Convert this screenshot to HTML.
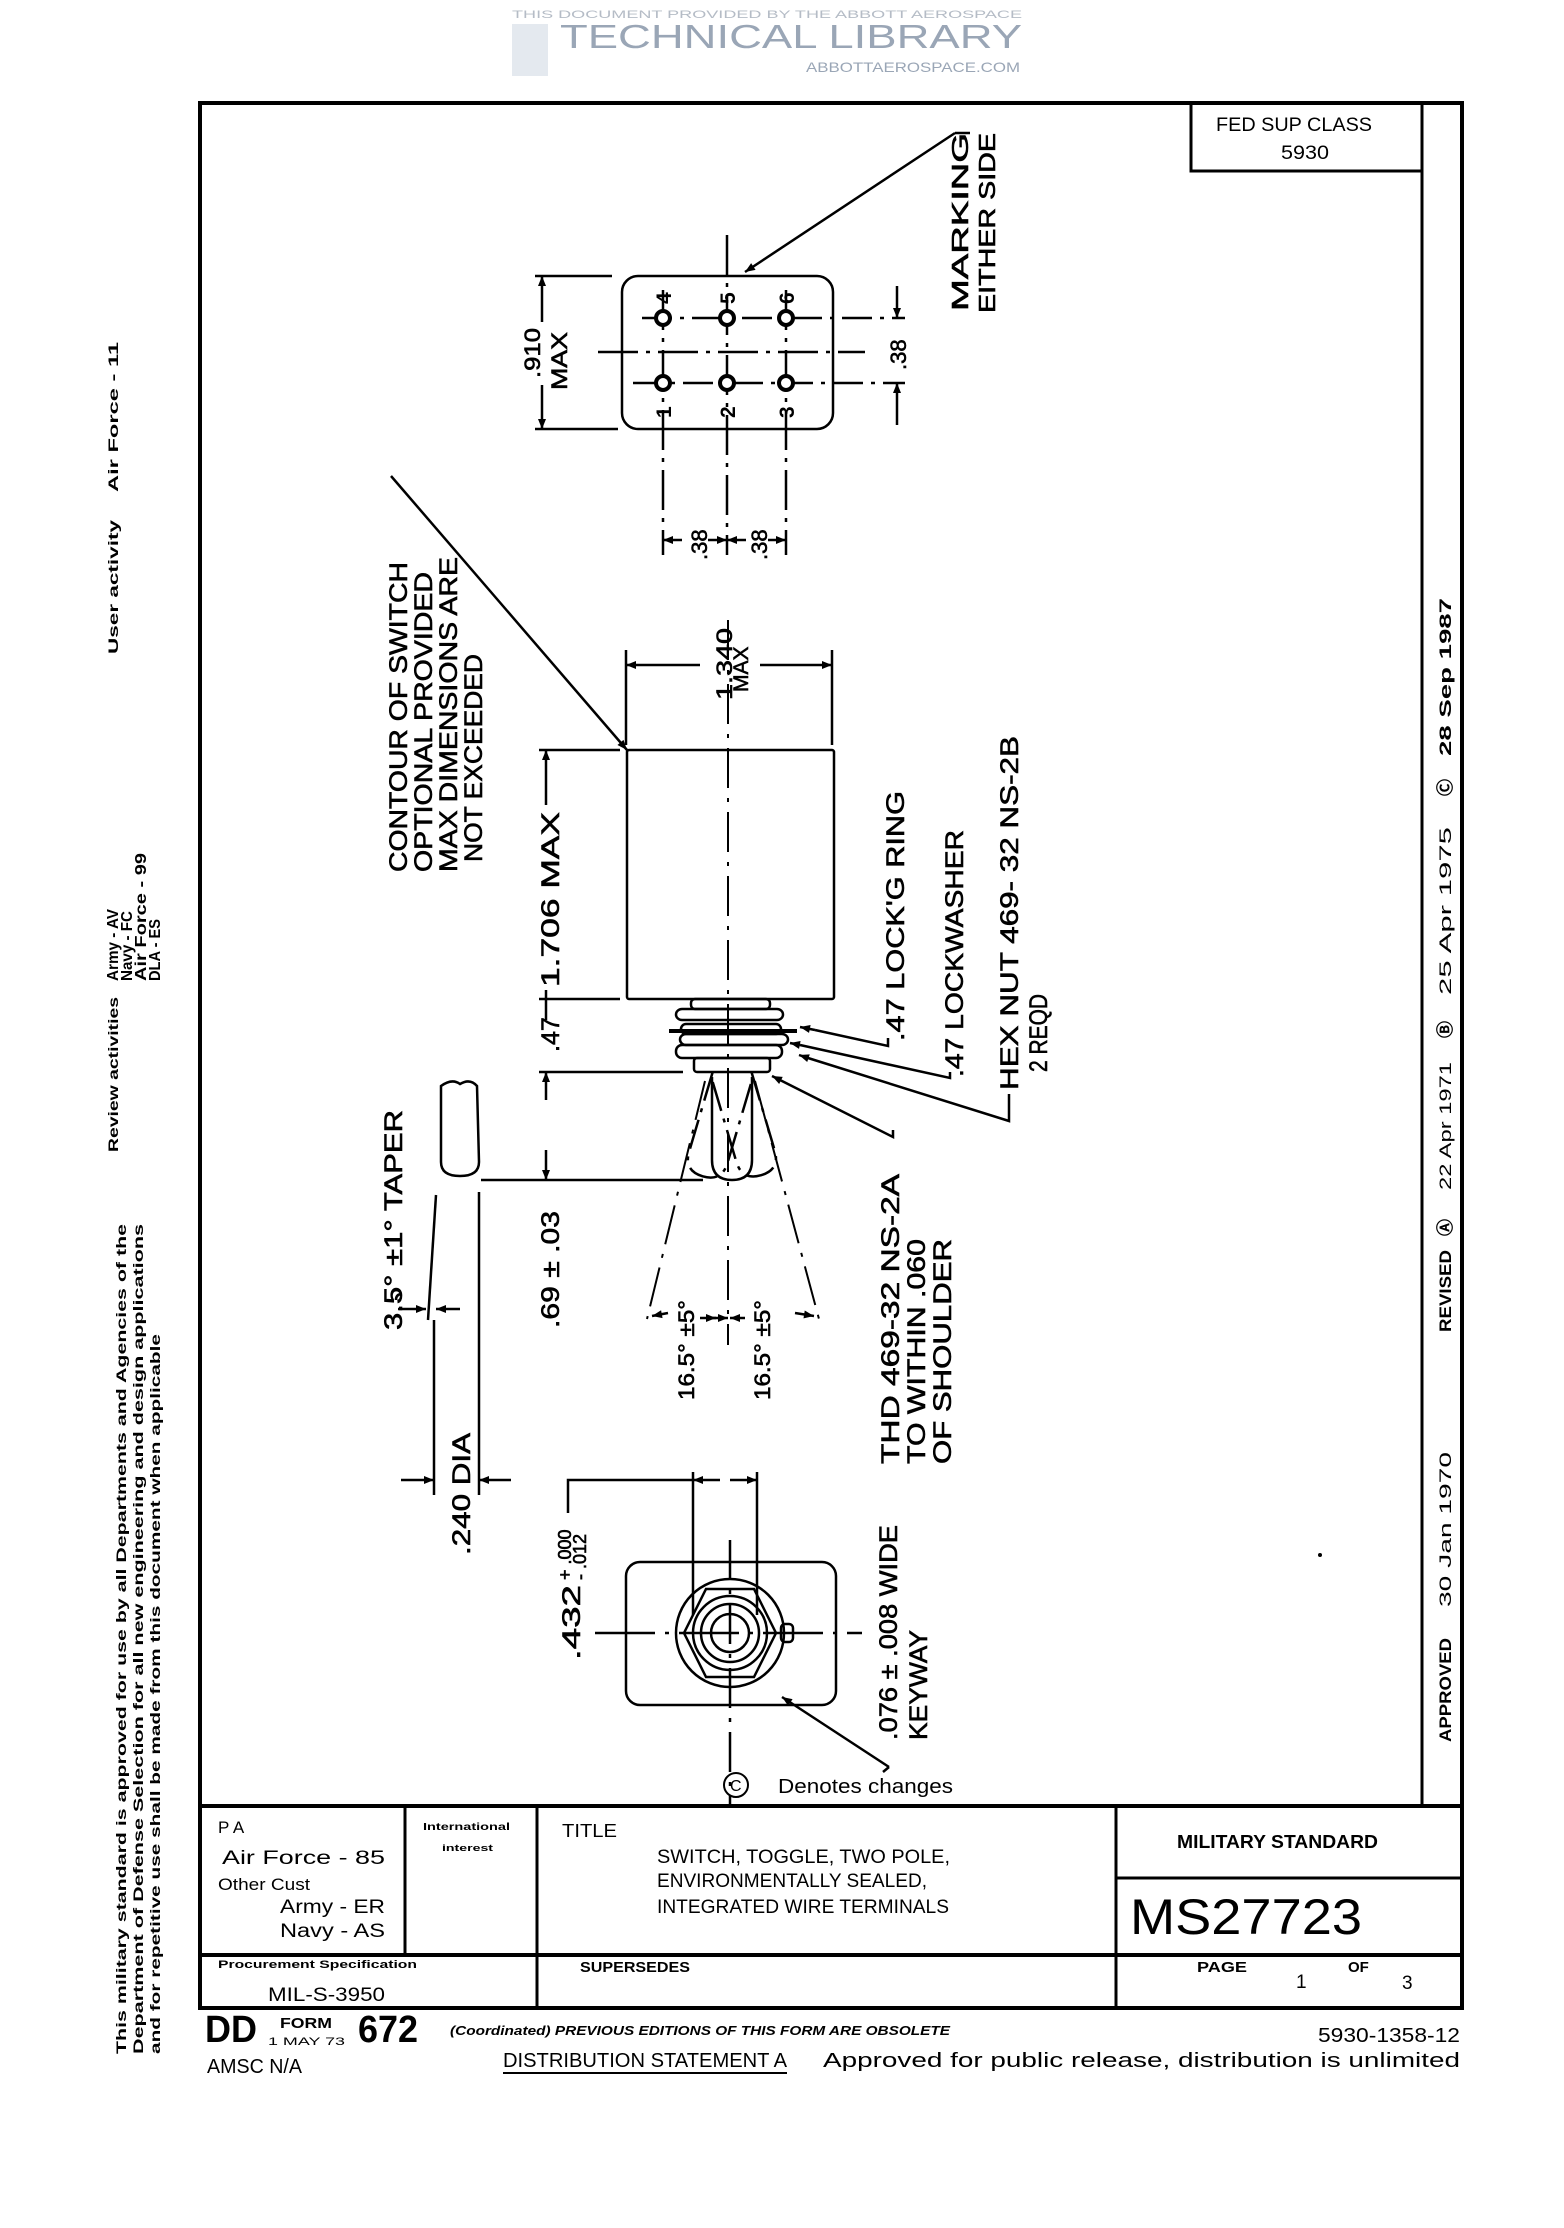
<!DOCTYPE html>
<html><head><meta charset="utf-8"><style>
html,body{margin:0;padding:0;background:#fff}
svg{display:block}
text{font-family:"Liberation Sans",sans-serif;fill:#000}
.d{font-size:25px;stroke:#000;stroke-width:0.6}
.n{font-family:"Liberation Sans Narrow","Liberation Sans",sans-serif}
</style></head><body>
<svg width="1564" height="2228" viewBox="0 0 1564 2228" xmlns="http://www.w3.org/2000/svg">
<defs>
<marker id="a" viewBox="0 0 10 10" refX="10" refY="5" markerWidth="14" markerHeight="10" markerUnits="userSpaceOnUse" orient="auto"><path d="M0,1 L10,5 L0,9 Z" fill="#000"/></marker>
</defs>
<g fill="#a9b4c4">
<rect x="512" y="24" width="36" height="52" fill="#e4e9ef"/>
<text x="512" y="18" font-size="11" style="fill:#b5bcc6" textLength="510" lengthAdjust="spacingAndGlyphs">THIS DOCUMENT PROVIDED BY THE ABBOTT AEROSPACE</text>
<text x="560" y="48" font-size="33" style="fill:#9aa6b6" textLength="462" lengthAdjust="spacingAndGlyphs">TECHNICAL LIBRARY</text>
<text x="806" y="72" font-size="14" style="fill:#9aa6b6" textLength="214" lengthAdjust="spacingAndGlyphs">ABBOTTAEROSPACE.COM</text>
</g>

<g stroke="#000" fill="none">
<rect x="200" y="103" width="1262" height="1905" stroke-width="4"/>
<line x1="1422" y1="103" x2="1422" y2="1806" stroke-width="3"/>
<polyline points="1191,103 1191,171 1422,171" stroke-width="3"/>
<line x1="200" y1="1806" x2="1462" y2="1806" stroke-width="4"/>
<line x1="200" y1="1955" x2="1462" y2="1955" stroke-width="4"/>
<line x1="405" y1="1806" x2="405" y2="1955" stroke-width="3"/>
<line x1="537" y1="1806" x2="537" y2="2008" stroke-width="3"/>
<line x1="1116" y1="1806" x2="1116" y2="2008" stroke-width="3"/>
<line x1="1116" y1="1878" x2="1462" y2="1878" stroke-width="3"/>
</g>
<text x="1216" y="131" font-size="19" class="n" textLength="156" lengthAdjust="spacingAndGlyphs">FED SUP CLASS</text>
<text x="1281" y="159" font-size="19" class="n" textLength="48" lengthAdjust="spacingAndGlyphs">5930</text>

<g font-size="17" font-weight="bold">
<text transform="translate(1451,1742) rotate(-90)" textLength="104" lengthAdjust="spacingAndGlyphs">APPROVED</text>
<text transform="translate(1451,1607) rotate(-90)" font-weight="normal" textLength="155" lengthAdjust="spacingAndGlyphs">30 Jan 1970</text>
<text transform="translate(1451,1332) rotate(-90)" textLength="82" lengthAdjust="spacingAndGlyphs">REVISED</text>
<text transform="translate(1451,1236) rotate(-90)">Ⓐ</text>
<text transform="translate(1451,1190) rotate(-90)" font-weight="normal" textLength="128" lengthAdjust="spacingAndGlyphs">22 Apr 1971</text>
<text transform="translate(1451,1038) rotate(-90)">Ⓑ</text>
<text transform="translate(1451,995) rotate(-90)" font-weight="normal" textLength="168" lengthAdjust="spacingAndGlyphs">25 Apr 1975</text>
<text transform="translate(1451,796) rotate(-90)">Ⓒ</text>
<text transform="translate(1451,756) rotate(-90)" textLength="158" lengthAdjust="spacingAndGlyphs">28 Sep 1987</text>
</g>

<g font-size="14" font-weight="bold">
<text transform="translate(118,1152) rotate(-90)" textLength="155" lengthAdjust="spacingAndGlyphs">Review activities</text>
<text transform="translate(118,981) rotate(-90)" font-size="16" textLength="72" lengthAdjust="spacingAndGlyphs">Army - AV</text>
<text transform="translate(132,981) rotate(-90)" font-size="16" textLength="70" lengthAdjust="spacingAndGlyphs">Navy - FC</text>
<text transform="translate(146,981) rotate(-90)" font-size="16" textLength="128" lengthAdjust="spacingAndGlyphs">Air Force - 99</text>
<text transform="translate(160,981) rotate(-90)" font-size="16" textLength="62" lengthAdjust="spacingAndGlyphs">DLA - ES</text>
<text transform="translate(118,654) rotate(-90)" textLength="134" lengthAdjust="spacingAndGlyphs">User activity</text>
<text transform="translate(118,492) rotate(-90)" textLength="150" lengthAdjust="spacingAndGlyphs">Air Force - 11</text>
<text transform="translate(126,2054) rotate(-90)" textLength="830" lengthAdjust="spacingAndGlyphs">This military standard is approved for use by all Departments and Agencies of the</text>
<text transform="translate(143,2054) rotate(-90)" textLength="830" lengthAdjust="spacingAndGlyphs">Department of Defense    Selection for all new engineering and design applications</text>
<text transform="translate(160,2054) rotate(-90)" textLength="720" lengthAdjust="spacingAndGlyphs">and for repetitive use shall be made from this document when applicable</text>
</g>

<g stroke="#000" fill="none" stroke-width="2.5">
<rect x="622" y="276" width="211" height="153" rx="16"/>
<line x1="598" y1="352" x2="865" y2="352" stroke-dasharray="40,8,4,8"/>
<line x1="642" y1="318" x2="905" y2="318" stroke-dasharray="30,8,4,8"/>
<line x1="633" y1="383" x2="905" y2="383" stroke-dasharray="30,8,4,8"/>
<line x1="663" y1="290" x2="663" y2="555" stroke-dasharray="40,8,4,8"/>
<line x1="727" y1="235" x2="727" y2="555" stroke-dasharray="40,8,4,8"/>
<line x1="786" y1="290" x2="786" y2="555" stroke-dasharray="40,8,4,8"/>
<g stroke-width="4" fill="#fff">
<circle cx="663" cy="318" r="7"/><circle cx="727" cy="318" r="7"/><circle cx="786" cy="318" r="7"/>
<circle cx="663" cy="383" r="7"/><circle cx="727" cy="383" r="7"/><circle cx="786" cy="383" r="7"/>
</g>
<line x1="535" y1="276" x2="612" y2="276"/><line x1="535" y1="429" x2="618" y2="429"/>
<line x1="542" y1="322" x2="542" y2="276" marker-end="url(#a)"/>
<line x1="542" y1="385" x2="542" y2="429" marker-end="url(#a)"/>
<line x1="897" y1="286" x2="897" y2="318" marker-end="url(#a)"/>
<line x1="897" y1="425" x2="897" y2="383" marker-end="url(#a)"/>
<path d="M682,540 L663,540" marker-end="url(#a)"/>
<path d="M708,540 L727,540" marker-end="url(#a)"/>
<path d="M746,540 L727,540" marker-end="url(#a)"/>
<path d="M768,540 L786,540" marker-end="url(#a)"/>
<line x1="955" y1="133" x2="970" y2="133"/>
<line x1="955" y1="133" x2="745" y2="272" marker-end="url(#a)"/>

<rect x="627" y="750" width="207" height="249" rx="2"/>
<line x1="728" y1="620" x2="728" y2="1345" stroke-dasharray="40,10,4,10" stroke-width="2"/>
<line x1="626" y1="650" x2="626" y2="745"/><line x1="832" y1="650" x2="832" y2="745"/>
<line x1="700" y1="665" x2="626" y2="665" marker-end="url(#a)"/>
<line x1="760" y1="665" x2="832" y2="665" marker-end="url(#a)"/>
<line x1="539" y1="750" x2="620" y2="750"/><line x1="539" y1="999" x2="620" y2="999"/>
<line x1="546" y1="805" x2="546" y2="750" marker-end="url(#a)"/>
<line x1="546" y1="990" x2="546" y2="999"/>
<line x1="539" y1="1072" x2="683" y2="1072"/>
<line x1="481" y1="1180" x2="703" y2="1180"/>
<line x1="546" y1="1020" x2="546" y2="1000"/>
<line x1="546" y1="1100" x2="546" y2="1072" marker-end="url(#a)"/>
<line x1="546" y1="1150" x2="546" y2="1180" marker-end="url(#a)"/>
<rect x="691" y="999" width="79" height="10" rx="4"/>
<rect x="676" y="1009" width="107" height="11" rx="6"/>
<line x1="669" y1="1031" x2="797" y2="1031" stroke-width="4"/>
<rect x="681" y="1024" width="100" height="10" rx="5"/>
<rect x="680" y="1034" width="108" height="11" rx="6"/>
<rect x="676" y="1045" width="106" height="13" rx="6"/>
<rect x="694" y="1058" width="76" height="14" rx="3"/>
<path d="M712,1077 L712,1160 Q712,1180 732,1180 Q752,1180 752,1160 L752,1077"/>
<g transform="rotate(16.5 730 1077)" stroke-dasharray="30,8,4,8"><path d="M712,1077 L712,1160 Q712,1180 732,1180 Q752,1180 752,1160 L752,1077"/></g>
<g transform="rotate(-16.5 730 1077)" stroke-dasharray="30,8,4,8"><path d="M712,1077 L712,1160 Q712,1180 732,1180 Q752,1180 752,1160 L752,1077"/></g>
<line x1="705" y1="1081" x2="647" y2="1319" stroke-dasharray="40,10,4,10" stroke-width="2"/>
<line x1="755" y1="1081" x2="819" y2="1319" stroke-dasharray="40,10,4,10" stroke-width="2"/>
<path d="M668,1313 L652,1316" marker-end="url(#a)"/><path d="M700,1318 L716,1318" marker-end="url(#a)"/>
<path d="M712,1318 L728,1318" marker-end="url(#a)"/><path d="M745,1318 L730,1318" marker-end="url(#a)"/>
<path d="M795,1313 L814,1316" marker-end="url(#a)"/>
<line x1="391" y1="476" x2="627" y2="750" marker-end="url(#a)"/>
<polyline points="888,1038 888,1046 815,1030" /><line x1="815" y1="1030" x2="800" y2="1027" marker-end="url(#a)"/>
<polyline points="950,1072 950,1078 800,1045" /><line x1="800" y1="1045" x2="790" y2="1043" marker-end="url(#a)"/>
<polyline points="1009,1094 1009,1121 808,1058" /><line x1="808" y1="1058" x2="799" y2="1055" marker-end="url(#a)"/>
<polyline points="893,1130 893,1137 780,1080" /><line x1="780" y1="1080" x2="772" y2="1076" marker-end="url(#a)"/>
<path d="M441,1086 Q452,1078 460,1084 Q470,1078 477,1086 L479,1162 Q479,1176 460,1176 Q441,1176 441,1162 Z"/>
<line x1="479" y1="1192" x2="479" y2="1495"/>
<line x1="436" y1="1195" x2="428" y2="1320"/>
<line x1="434" y1="1320" x2="434" y2="1495"/>
<path d="M396,1300 Q396,1294 402,1294"/>
<path d="M398,1309 L426,1309" marker-end="url(#a)"/>
<path d="M460,1309 L436,1309" marker-end="url(#a)"/>
<path d="M401,1480 L434,1480" marker-end="url(#a)"/>
<path d="M511,1480 L479,1480" marker-end="url(#a)"/>
<rect x="626" y="1562" width="210" height="143" rx="14"/>
<line x1="595" y1="1633" x2="862" y2="1633" stroke-dasharray="60,10,4,10"/>
<line x1="730" y1="1540" x2="730" y2="1805" stroke-dasharray="40,10,4,10"/>
<circle cx="730" cy="1633" r="54"/>
<polygon points="706,1589 754,1589 776,1633 754,1677 706,1677 684,1633"/>
<circle cx="730" cy="1633" r="37"/><circle cx="730" cy="1633" r="29"/><circle cx="730" cy="1633" r="19"/>
<rect x="781" y="1624" width="12" height="18" rx="4"/>
<line x1="693" y1="1472" x2="693" y2="1615"/><line x1="757" y1="1472" x2="757" y2="1615"/>
<path d="M720,1480 L693,1480" marker-end="url(#a)"/><path d="M730,1480 L757,1480" marker-end="url(#a)"/>
<polyline points="568,1513 568,1480 693,1480"/>
<line x1="889" y1="1767" x2="782" y2="1697" marker-end="url(#a)"/>
<line x1="889" y1="1767" x2="883" y2="1772"/>
</g>
<g font-size="21" font-weight="bold">
<text transform="translate(671,304) rotate(-90)">4</text>
<text transform="translate(735,304) rotate(-90)">5</text>
<text transform="translate(794,304) rotate(-90)">6</text>
<text transform="translate(671,418) rotate(-90)">1</text>
<text transform="translate(735,418) rotate(-90)">2</text>
<text transform="translate(794,418) rotate(-90)">3</text>
</g>
<g class="d">
<text transform="translate(540,378) rotate(-90)" font-size="22" textLength="50" lengthAdjust="spacingAndGlyphs">.910</text>
<text transform="translate(567,390) rotate(-90)" font-size="22" textLength="58" lengthAdjust="spacingAndGlyphs">MAX</text>
<text transform="translate(906,370) rotate(-90)" font-size="22">.38</text>
<text transform="translate(707,560) rotate(-90)" font-size="22">.38</text>
<text transform="translate(767,560) rotate(-90)" font-size="22">.38</text>
<text transform="translate(968,311) rotate(-90)" font-size="23" textLength="178" lengthAdjust="spacingAndGlyphs">MARKING</text>
<text transform="translate(995,313) rotate(-90)" font-size="23" textLength="180" lengthAdjust="spacingAndGlyphs">EITHER SIDE</text>
<text transform="translate(732,700) rotate(-90)" font-size="22" textLength="72" lengthAdjust="spacingAndGlyphs">1.340</text>
<text transform="translate(748,692) rotate(-90)" font-size="21">MAX</text>
<text transform="translate(407,872) rotate(-90)" textLength="310" lengthAdjust="spacingAndGlyphs">CONTOUR OF SWITCH</text>
<text transform="translate(432,872) rotate(-90)" textLength="300" lengthAdjust="spacingAndGlyphs">OPTIONAL  PROVIDED</text>
<text transform="translate(457,872) rotate(-90)" textLength="315" lengthAdjust="spacingAndGlyphs">MAX DIMENSIONS ARE</text>
<text transform="translate(482,862) rotate(-90)" textLength="208" lengthAdjust="spacingAndGlyphs">NOT  EXCEEDED</text>
<text transform="translate(559,987) rotate(-90)" textLength="175" lengthAdjust="spacingAndGlyphs">1.706 MAX</text>
<text transform="translate(559,1052) rotate(-90)">.47</text>
<text transform="translate(559,1328) rotate(-90)" textLength="117" lengthAdjust="spacingAndGlyphs">.69 ± .03</text>
<text transform="translate(904,1041) rotate(-90)" textLength="250" lengthAdjust="spacingAndGlyphs">.47 LOCK'G RING</text>
<text transform="translate(963,1077) rotate(-90)" textLength="247" lengthAdjust="spacingAndGlyphs">.47 LOCKWASHER</text>
<text transform="translate(1018,1090) rotate(-90)" textLength="354" lengthAdjust="spacingAndGlyphs">HEX NUT 469- 32  NS-2B</text>
<text transform="translate(1047,1072) rotate(-90)" textLength="78" lengthAdjust="spacingAndGlyphs">2 REQD</text>
<text transform="translate(402,1330) rotate(-90)" textLength="220" lengthAdjust="spacingAndGlyphs">3.5° ±1° TAPER</text>
<text transform="translate(694,1400) rotate(-90)" font-size="22" textLength="100" lengthAdjust="spacingAndGlyphs">16.5° ±5°</text>
<text transform="translate(770,1400) rotate(-90)" font-size="22" textLength="100" lengthAdjust="spacingAndGlyphs">16.5° ±5°</text>
<text transform="translate(899,1464) rotate(-90)" textLength="290" lengthAdjust="spacingAndGlyphs">THD 469-32  NS-2A</text>
<text transform="translate(925,1464) rotate(-90)" textLength="225" lengthAdjust="spacingAndGlyphs">TO WITHIN .060</text>
<text transform="translate(951,1464) rotate(-90)" textLength="225" lengthAdjust="spacingAndGlyphs">OF SHOULDER</text>
<text transform="translate(470,1555) rotate(-90)" textLength="122" lengthAdjust="spacingAndGlyphs">.240 DIA</text>
<text transform="translate(580,1660) rotate(-90)" textLength="75" lengthAdjust="spacingAndGlyphs">.432</text>
<text transform="translate(571,1580) rotate(-90)" font-size="18">+ .000</text>
<text transform="translate(586,1580) rotate(-90)" font-size="18">- .012</text>
<text transform="translate(897,1740) rotate(-90)" textLength="215" lengthAdjust="spacingAndGlyphs">.076 ± .008 WIDE</text>
<text transform="translate(927,1740) rotate(-90)" textLength="110" lengthAdjust="spacingAndGlyphs">KEYWAY</text>
</g>
<circle cx="736" cy="1785" r="12" fill="none" stroke="#000" stroke-width="2"/>
<text x="730" y="1791" font-size="16">C</text>
<text x="778" y="1793" font-size="20" font-family="Liberation Mono" textLength="175" lengthAdjust="spacingAndGlyphs">Denotes changes</text>

<g class="n">
<text x="218" y="1833" font-size="17">P A</text>
<text x="222" y="1864" font-size="19" textLength="163" lengthAdjust="spacingAndGlyphs">Air Force - 85</text>
<text x="218" y="1890" font-size="17" textLength="92" lengthAdjust="spacingAndGlyphs">Other Cust</text>
<text x="280" y="1913" font-size="19" textLength="105" lengthAdjust="spacingAndGlyphs">Army - ER</text>
<text x="280" y="1937" font-size="19" textLength="105" lengthAdjust="spacingAndGlyphs">Navy - AS</text>
<text x="423" y="1830" font-size="10" font-weight="bold" textLength="87" lengthAdjust="spacingAndGlyphs">International</text>
<text x="442" y="1851" font-size="9" font-weight="bold" textLength="51" lengthAdjust="spacingAndGlyphs">interest</text>
<text x="562" y="1837" font-size="18" textLength="55" lengthAdjust="spacingAndGlyphs">TITLE</text>
<text x="657" y="1863" font-size="19" textLength="293" lengthAdjust="spacingAndGlyphs">SWITCH, TOGGLE, TWO POLE,</text>
<text x="657" y="1887" font-size="19" textLength="270" lengthAdjust="spacingAndGlyphs">ENVIRONMENTALLY SEALED,</text>
<text x="657" y="1913" font-size="19" textLength="292" lengthAdjust="spacingAndGlyphs">INTEGRATED WIRE TERMINALS</text>
<text x="1177" y="1848" font-size="18" font-weight="bold" textLength="201" lengthAdjust="spacingAndGlyphs">MILITARY STANDARD</text>
<text x="1130" y="1934" font-size="50" textLength="232" lengthAdjust="spacingAndGlyphs">MS27723</text>
<text x="218" y="1968" font-size="11" font-weight="bold" textLength="199" lengthAdjust="spacingAndGlyphs">Procurement Specification</text>
<text x="268" y="2001" font-size="19" textLength="117" lengthAdjust="spacingAndGlyphs">MIL-S-3950</text>
<text x="580" y="1972" font-size="15" font-weight="bold" textLength="110" lengthAdjust="spacingAndGlyphs">SUPERSEDES</text>
<text x="1197" y="1972" font-size="15" font-weight="bold" textLength="50" lengthAdjust="spacingAndGlyphs">PAGE</text>
<text x="1296" y="1988" font-size="19">1</text>
<text x="1348" y="1972" font-size="15" font-weight="bold">OF</text>
<text x="1402" y="1989" font-size="19">3</text>
<text x="205" y="2042" font-size="38" font-weight="bold" textLength="52" lengthAdjust="spacingAndGlyphs">DD</text>
<text x="280" y="2028" font-size="15" font-weight="bold" textLength="52" lengthAdjust="spacingAndGlyphs">FORM</text>
<text x="268" y="2045" font-size="11" textLength="77" lengthAdjust="spacingAndGlyphs">1 MAY 73</text>
<text x="358" y="2042" font-size="38" font-weight="bold" textLength="60" lengthAdjust="spacingAndGlyphs">672</text>
<text x="450" y="2035" font-size="13" font-weight="bold" font-style="italic" textLength="500" lengthAdjust="spacingAndGlyphs">(Coordinated) PREVIOUS EDITIONS OF THIS FORM ARE OBSOLETE</text>
<text x="1318" y="2042" font-size="20" textLength="142" lengthAdjust="spacingAndGlyphs">5930-1358-12</text>
<text x="207" y="2073" font-size="20" textLength="95" lengthAdjust="spacingAndGlyphs">AMSC N/A</text>
<text x="503" y="2067" font-size="20" textLength="284" lengthAdjust="spacingAndGlyphs">DISTRIBUTION STATEMENT A</text>
<text x="823" y="2067" font-size="20" textLength="637" lengthAdjust="spacingAndGlyphs">Approved for public release, distribution is unlimited</text>
</g>
<line x1="503" y1="2073" x2="787" y2="2073" stroke="#000" stroke-width="2"/>
<circle cx="1320" cy="1555" r="2" fill="#000"/>
</svg>
</body></html>
